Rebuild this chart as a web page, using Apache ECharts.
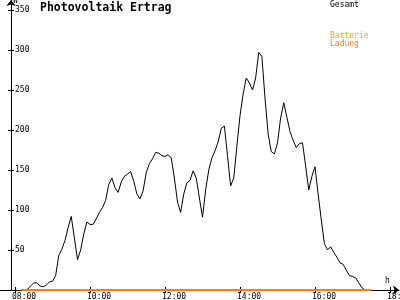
<!DOCTYPE html>
<html>
<head>
<meta charset="utf-8">
<script src="https://cdn.jsdelivr.net/npm/echarts@6/dist/echarts.min.js"></script>
<style>html,body{margin:0;padding:0;background:#fff}#c{width:400px;height:300px}</style>
</head>
<body>
<div id="c"></div>
<script>
var times = [
 "08:10","08:15","08:20","08:25","08:30","08:35","08:40","08:45","08:50","08:55",
 "09:00","09:05","09:10","09:15","09:20","09:25","09:30","09:35","09:40","09:45","09:50","09:55",
 "10:00","10:05","10:10","10:15","10:20","10:25","10:30","10:35","10:40","10:45","10:50","10:55",
 "11:00","11:05","11:10","11:15","11:20","11:25","11:30","11:35","11:40","11:45","11:50","11:55",
 "12:00","12:05","12:10","12:15","12:20","12:25","12:30","12:35","12:40","12:45","12:50","12:55",
 "13:00","13:05","13:10","13:15","13:20","13:25","13:30","13:35","13:40","13:45","13:50","13:55",
 "14:00","14:05","14:10","14:15","14:20","14:25","14:30","14:35","14:40","14:45","14:50","14:55",
 "15:00","15:05","15:10","15:15","15:20","15:25","15:30","15:35","15:40","15:45","15:50","15:55",
 "16:00","16:05","16:10","16:15","16:20","16:25","16:30","16:35","16:40","16:45","16:50","16:55",
 "17:00","17:05","17:10","17:15","17:20","17:25","17:30"
];
var gesamt = [
 0,0,1,5,9,9,5,4,6,10,
 11,18,43,51,62,78,92,65,38,50,
 70,85,82,82,89,97,103,112,132,140,
 128,122,135,142,145,148,136,120,114,124,
 147,158,164,172,171,168,167,169,165,140,
 110,97,120,134,137,149,140,115,91,125,
 150,165,174,185,202,205,168,130,140,180,
 218,245,265,259,250,265,297,292,240,195,
 173,170,184,215,234,216,198,187,178,183,
 184,155,125,142,154,120,88,58,50,54,
 47,41,34,32,25,18,17,15,9,3,
 0,0,0
];
var ladung = [
 0,0,0,0,0,0,0,0,0,0, 0,0,0,0,0,0,0,0,0,0, 0,0,0,0,0,0,0,0,0,0,
 0,0,0,0,0,0,0,0,0,0, 0,0,0,0,0,0,0,0,0,0, 0,0,0,0,0,0,0,0,0,0,
 0,0,0,0,0,0,0,0,0,0, 0,0,0,0,0,0,0,0,0,0, 0,0,0,0,0,0,0,0,0,0,
 0,0,0,0,0,0,0,0,0,0, 0,0,0,0,0,0,0,0,0,0, 0,0,0
];
var xTicks = [8, 10, 12, 14, 16, 18];
var xTickLabels = ["08:00", "10:00", "12:00", "14:00", "16:00", "18:00"];
var yTicks = [50, 100, 150, 200, 250, 300, 350];
var title = "Photovoltaik Ertrag";
var legendNames = ["Gesamt", "Batterie", "Ladung"];

function toHours(t) { var p = t.split(":"); return +p[0] + (+p[1]) / 60; }
function pairs(vals) { return times.map(function (t, i) { return [toHours(t), vals[i]]; }); }

var FONT = '"DejaVu Sans Mono", monospace';
var XMIN = 7.6, XMAX = 18.24, LBL_SHIFT = 0.08;

var chart = echarts.init(document.getElementById('c'), null, {renderer: 'canvas'});
chart.setOption({
  animation: false,
  backgroundColor: '#fff',
  title: {text: title, left: 40, top: 2, padding: 0,
    textStyle: {fontFamily: FONT, fontWeight: 'bold', fontSize: 11.5, color: '#000'}},
  grid: {left: 0, right: 1, top: 0, bottom: 10, containLabel: false, outerBoundsMode: 'none'},
  xAxis: [
    {type: 'value', position: 'bottom', min: XMIN, max: XMAX,
     axisLine: {show: true, lineStyle: {color: '#000', width: 1}, symbol: ['none', 'arrow'], symbolSize: [7, 6]},
     axisTick: {show: true, inside: false, length: 3, lineStyle: {color: '#000'}, customValues: xTicks},
     axisLabel: {show: false}, splitLine: {show: false}},
    {type: 'value', position: 'bottom', min: XMIN, max: XMAX,
     axisLine: {show: false},
     axisTick: {show: true, inside: true, length: 3, lineStyle: {color: '#000'}, customValues: xTicks},
     axisLabel: {show: false}, splitLine: {show: false}},
    {type: 'value', position: 'bottom', min: XMIN + LBL_SHIFT, max: XMAX + LBL_SHIFT,
     axisLine: {show: false}, axisTick: {show: false}, splitLine: {show: false},
     axisLabel: {show: true, customValues: xTicks, align: 'left', margin: 3, hideOverlap: false,
       fontFamily: FONT, fontSize: 8, color: '#000',
       formatter: function (v) { return xTickLabels[xTicks.indexOf(v)]; }}}
  ],
  yAxis: [
    {type: 'value', position: 'left', offset: -11, min: 0, max: 362.5,
     axisLine: {show: true, onZero: false, lineStyle: {color: '#000', width: 1}, symbol: ['none', 'arrow'], symbolSize: [7, 6]},
     axisTick: {show: true, inside: false, length: 3, lineStyle: {color: '#000'}, customValues: yTicks},
     axisLabel: {show: true, inside: true, margin: 4, customValues: yTicks,
       fontFamily: FONT, fontSize: 8, color: '#000'},
     splitLine: {show: false}},
    {type: 'value', position: 'left', offset: -11, min: 0, max: 362.5,
     axisLine: {show: false},
     axisTick: {show: true, inside: true, length: 3, lineStyle: {color: '#000'}, customValues: yTicks},
     axisLabel: {show: false}, splitLine: {show: false}}
  ],
  graphic: [
    {type: 'text', left: 13, top: -3, style: {text: 'W', font: '8px ' + FONT, fill: '#000'}},
    {type: 'text', left: 385, top: 277, style: {text: 'h', font: '8px ' + FONT, fill: '#000'}},
    {type: 'text', left: 330, top: 1, style: {text: legendNames[0], font: '8px ' + FONT, fill: '#000'}},
    {type: 'text', left: 330, top: 32, style: {text: legendNames[1], font: '8px ' + FONT, fill: '#FFA500'}},
    {type: 'text', left: 330, top: 40, style: {text: legendNames[2], font: '8px ' + FONT, fill: '#FF8000'}}
  ],
  series: [
    {name: legendNames[0], type: 'line', xAxisIndex: 0, yAxisIndex: 0, data: pairs(gesamt),
     showSymbol: false, symbol: 'none', lineStyle: {color: '#000', width: 1}, z: 3},
    {name: legendNames[2], type: 'line', xAxisIndex: 0, yAxisIndex: 0, data: pairs(ladung),
     showSymbol: false, symbol: 'none', lineStyle: {color: '#FF8000', width: 2}, z: 4}
  ]
});
</script>
</body>
</html>
